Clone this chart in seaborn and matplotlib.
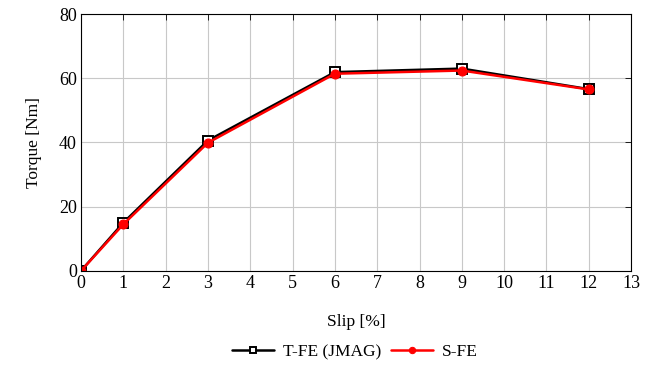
import matplotlib
matplotlib.use("Agg")
import matplotlib.pyplot as plt
import seaborn as sns
import pandas as pd

slip = [0, 1, 3, 6, 9, 12]
tfe = [0, 15.0, 40.6, 61.9, 63.0, 56.6]
sfe = [0, 14.5, 39.9, 61.4, 62.4, 56.5]
xticks = list(range(0, 14))
yticks = [0, 20, 40, 60, 80]

sns.set_style("white")
plt.rcParams['font.family'] = ['Liberation Serif', 'DejaVu Serif']
plt.rcParams['text.color'] = 'black'
plt.rcParams['axes.labelcolor'] = 'black'

fig = plt.figure(figsize=(6.56, 3.69), dpi=100)
ax = fig.add_axes([0.1235, 0.266, 0.8385, 0.696])

df = pd.concat([
    pd.DataFrame({"Slip": slip, "Torque": tfe, "Method": "T-FE (JMAG)"}),
    pd.DataFrame({"Slip": slip, "Torque": sfe, "Method": "S-FE"}),
])

sns.lineplot(data=df[df.Method == "T-FE (JMAG)"], x="Slip", y="Torque", ax=ax,
             color="black", marker="s", markersize=7, markerfacecolor="white",
             markeredgecolor="black", markeredgewidth=1.4, linewidth=1.8,
             label="T-FE (JMAG)")
sns.lineplot(data=df[df.Method == "S-FE"], x="Slip", y="Torque", ax=ax,
             color="red", marker="o", markersize=6.5, markerfacecolor="red",
             markeredgecolor="red", linewidth=1.8, label="S-FE")

ax.set_xlim(0, 13)
ax.set_ylim(0, 80)
ax.set_xticks(xticks)
ax.set_yticks(yticks)
ax.grid(True, color="#c8c8c8", linewidth=0.8)
ax.set_axisbelow(True)
for s in ax.spines.values():
    s.set_color("black")
    s.set_linewidth(0.8)
ax.tick_params(direction="in", length=4, width=0.6, top=True, right=True,
               labelsize=13, colors="black", pad=3)
ax.set_xlabel("Slip [%]", fontsize=12.5, labelpad=16, color="black")
ax.set_ylabel("Torque [Nm]", fontsize=12.5, labelpad=12, color="black")

ax.legend(loc="center", ncol=2, frameon=False, fontsize=12.5, handlelength=2.4,
          columnspacing=0.6, handletextpad=0.5, markerscale=0.7)
leg = ax.get_legend()
leg.set_bbox_to_anchor((355 / 656, 1 - 352 / 369), transform=fig.transFigure)
for t in leg.get_texts():
    t.set_color("black")

fig.savefig("out.png", dpi=100)
